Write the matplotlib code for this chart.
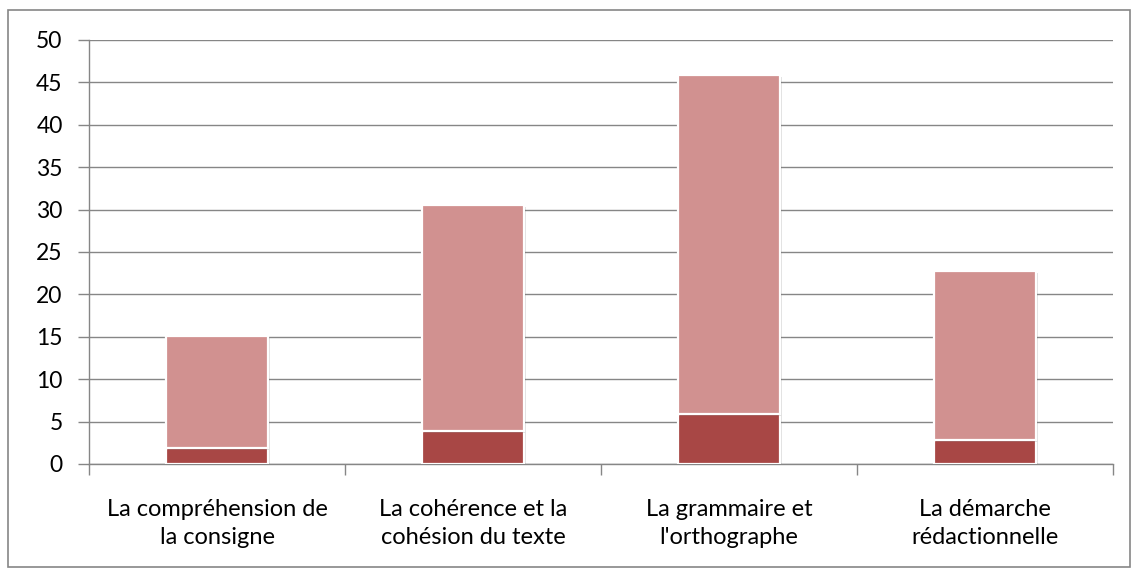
import numpy as np
import matplotlib
matplotlib.use("Agg")
import matplotlib.pyplot as plt
from matplotlib.patches import Rectangle
import matplotlib.patheffects as pe

plt.rcParams["font.family"] = ["Lato", "DejaVu Sans"]

categories = ["La compréhension de\nla consigne",
              "La cohérence et la\ncohésion du texte",
              "La grammaire et\nl'orthographe",
              "La démarche\nrédactionnelle"]
serie_bas = [1.9, 3.9, 5.9, 2.85]
serie_haut = [13.25, 26.6, 40.0, 19.95]
yticks = [0, 5, 10, 15, 20, 25, 30, 35, 40, 45, 50]

c_dark = "#A84745"
c_light = "#D19190"
grey = "#868686"

W, H = 1133, 576
fig = plt.figure(figsize=(W / 100, H / 100), dpi=100)
ax = fig.add_axes([89 / W, 1 - 464 / H, (1113 - 89) / W, (464 - 40) / H])

# border around the whole chart
fig.patches.append(Rectangle((8 / W, 1 - 567 / H), (1130 - 8) / W, (567 - 10) / H,
                             transform=fig.transFigure, fill=False,
                             edgecolor=grey, lw=1.2))

x = np.arange(len(categories))
shadow = [pe.SimplePatchShadow(offset=(1.5, -1.5), shadow_rgbFace="#000000", alpha=0.12), pe.Normal()]
b1 = ax.bar(x, serie_bas, width=0.4, color=c_dark, edgecolor="white", lw=1.6, zorder=3)
b2 = ax.bar(x, serie_haut, bottom=serie_bas, width=0.4, color=c_light, edgecolor="white", lw=1.6, zorder=3)
for b in list(b1) + list(b2):
    b.set_path_effects(shadow)

ax.set_xlim(-0.5, len(categories) - 0.5)
ax.set_ylim(0, 50)
ax.set_yticks(yticks)
ax.set_yticklabels([str(v) for v in yticks], fontsize=16.5)
ax.yaxis.grid(True, color=grey, lw=1.0, zorder=0)
ax.set_axisbelow(True)

ax.set_xticks(np.arange(-0.5, len(categories), 1.0))
ax.set_xticklabels([])
ax.set_xticks(x, minor=True)
ax.set_xticklabels(categories, minor=True, fontsize=17, linespacing=1.45)
ax.tick_params(axis="x", which="major", length=8, color=grey, width=1)
ax.tick_params(axis="x", which="minor", length=0, pad=25)
ax.tick_params(axis="y", length=8, color=grey, width=1, pad=11)

for s in ["top", "right"]:
    ax.spines[s].set_visible(False)
for s in ["left", "bottom"]:
    ax.spines[s].set_color(grey)
    ax.spines[s].set_linewidth(1.0)

plt.savefig("out.png", dpi=100)
plt.close()
